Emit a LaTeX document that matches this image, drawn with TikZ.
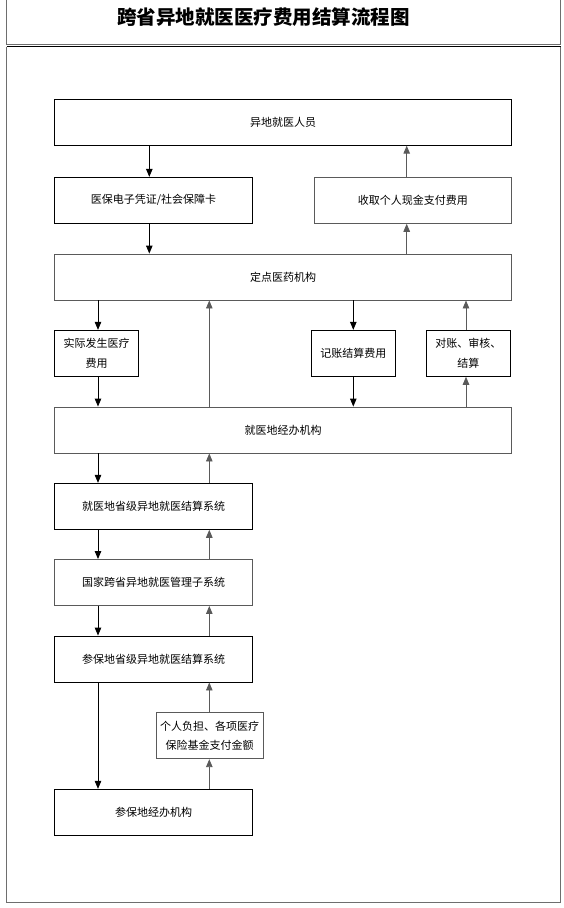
\documentclass[tikz,border=0pt]{standalone}
\usepackage{fontspec}
\setmainfont{Noto Sans CJK SC}
\usetikzlibrary{arrows.meta,positioning}

\definecolor{framegray}{HTML}{6E6E6E}
\definecolor{linegray}{HTML}{5A5A5A}

\tikzset{
	stage/.style={draw, line width=0.9pt, minimum height=46pt, inner sep=2pt, align=center,
		font=\fontsize{11}{19.5}\selectfont},
	wide/.style={stage, minimum width=457pt},
	half/.style={stage, minimum width=197.6pt},
	small/.style={stage, minimum width=83.4pt},
	down/.style={-{Triangle[length=8pt,width=6.5pt]}, line width=0.9pt},
	up/.style={down, linegray},
}

\begin{document}
\begin{tikzpicture}[x=1pt, y=-1pt]
\useasboundingbox (0,0) rectangle (563,908);

% frames
\draw[framegray, line width=1pt] (6.5,0) -- (6.5,44) -- (560.7,44) -- (560.7,0);
\draw[line width=1pt] (6.5,46.5) -- (560.7,46.5);
\draw[framegray, line width=1pt] (6.5,46.5) -- (6.5,902.5) -- (560.7,902.5) -- (560.7,46.5);

\node[font=\fontsize{19.5}{22}\selectfont\bfseries] (title) at (263.7,17) {跨省异地就医医疗费用结算流程图};

\node[wide] (renyuan) at (283.2,122.2) {异地就医人员};
\node[half] (pingzheng) at (153.5,200.3) {医保电子凭证/社会保障卡};
\node[half, linegray, text=black] (xianjin) at (412.9,200.3) {收取个人现金支付费用};
\node[wide, linegray, text=black] (dingdian) at (283.2,277) {定点医药机构};
\node[small] (shiji) at (96.5,353.3) {实际发生医疗\\费用};
\node[small] (jizhang) at (353.3,353.3) {记账结算费用};
\node[small] (duizhang) at (468.3,353.3) {对账、审核、\\结算};
\node[wide, linegray, text=black] (jingban) at (283.2,430) {就医地经办机构};
\node[half] (jiuyisheng) at (153.5,506.3) {就医地省级异地就医结算系统};
\node[half, linegray, text=black] (guojia) at (153.5,582.5) {国家跨省异地就医管理子系统};
\node[half] (canbaosheng) at (153.5,659) {参保地省级异地就医结算系统};
\node[stage, minimum width=107.3pt, linegray, text=black, font=\fontsize{11}{18.3}\selectfont] (geren) at (209.7,735.7) {个人负担、各项医疗\\保险基金支付金额};
\node[half] (canbaojingban) at (153.5,812.3) {参保地经办机构};

% arrow columns
\coordinate (colA) at (98,0);
\coordinate (colB) at (149.3,0);
\coordinate (colC) at (209.3,0);
\coordinate (colD) at (353.3,0);
\coordinate (colE) at (406.7,0);
\coordinate (colF) at (466,0);

\draw[down] (renyuan.south -| colB) -- (pingzheng.north -| colB);
\draw[down] (pingzheng.south -| colB) -- (dingdian.north -| colB);
\draw[up] (dingdian.north -| colE) -- (xianjin.south -| colE);
\draw[up] (xianjin.north -| colE) -- (renyuan.south -| colE);

\draw[down] (dingdian.south -| colA) -- (shiji.north -| colA);
\draw[down] (shiji.south -| colA) -- (jingban.north -| colA);
\draw[up] (jingban.north -| colC) -- (dingdian.south -| colC);
\draw[down] (dingdian.south -| colD) -- (jizhang.north -| colD);
\draw[down] (jizhang.south -| colD) -- (jingban.north -| colD);
\draw[up] (jingban.north -| colF) -- (duizhang.south -| colF);
\draw[up] (duizhang.north -| colF) -- (dingdian.south -| colF);

\draw[down] (jingban.south -| colA) -- (jiuyisheng.north -| colA);
\draw[down] (jiuyisheng.south -| colA) -- (guojia.north -| colA);
\draw[down] (guojia.south -| colA) -- (canbaosheng.north -| colA);
\draw[down] (canbaosheng.south -| colA) -- (canbaojingban.north -| colA);
\draw[up] (jiuyisheng.north -| colC) -- (jingban.south -| colC);
\draw[up] (guojia.north -| colC) -- (jiuyisheng.south -| colC);
\draw[up] (canbaosheng.north -| colC) -- (guojia.south -| colC);
\draw[up] (geren.north -| colC) -- (canbaosheng.south -| colC);
\draw[up] (canbaojingban.north -| colC) -- (geren.south -| colC);
\end{tikzpicture}
\end{document}
